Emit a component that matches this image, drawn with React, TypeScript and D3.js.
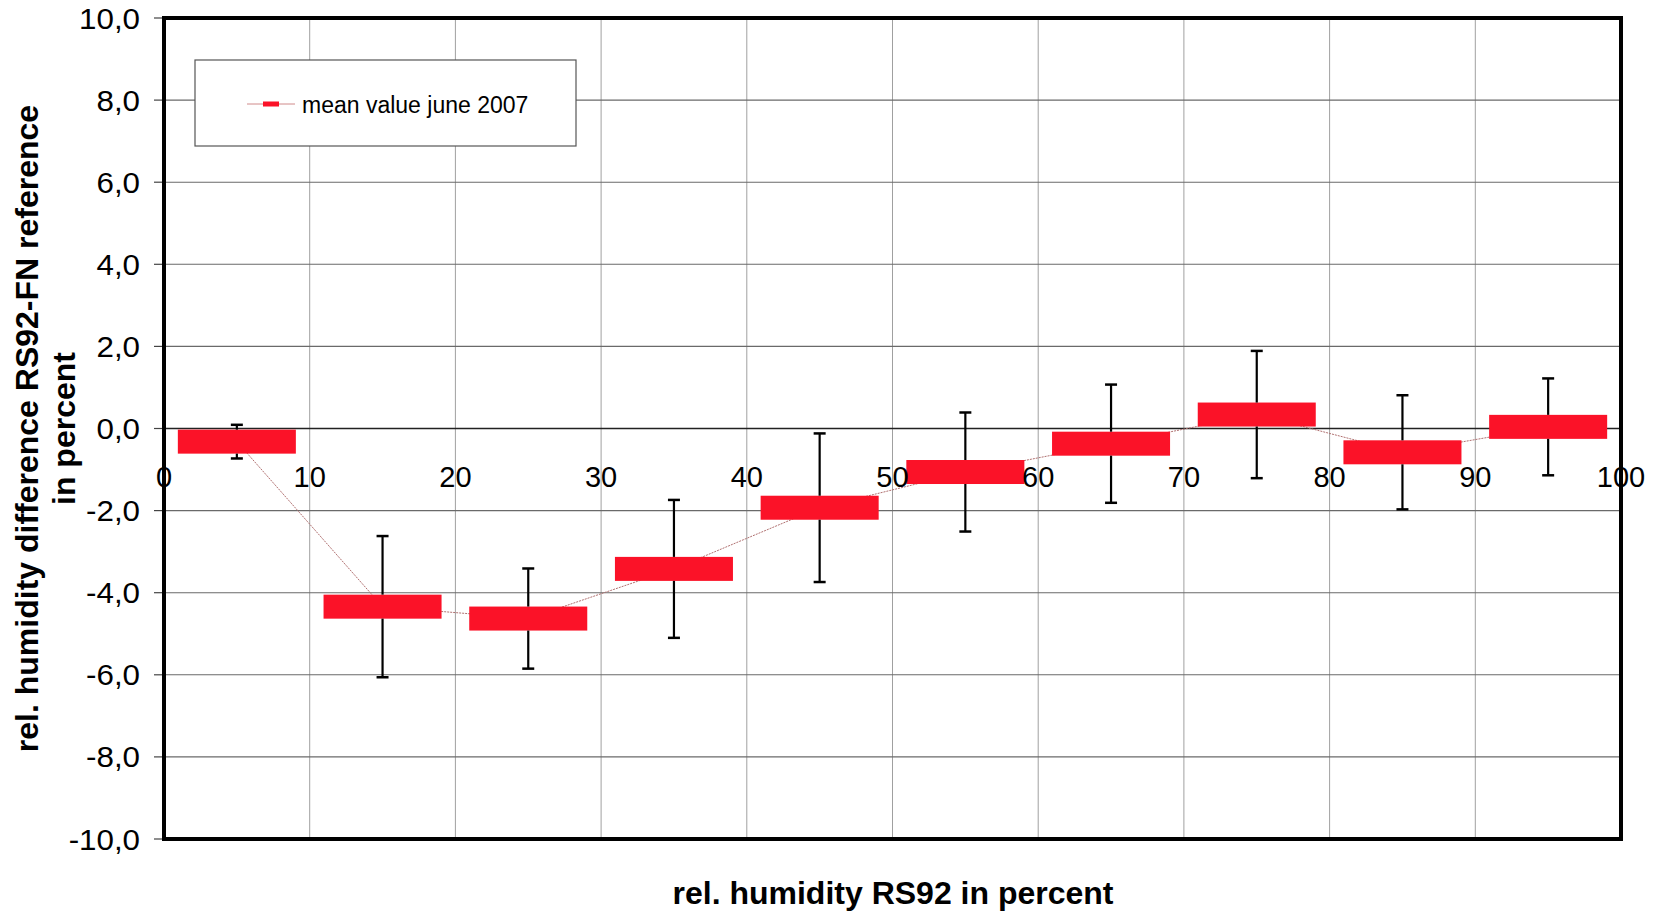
import React from "react";
import * as d3 from "d3";

// Humidity bins (lower edge of each 10 % class)
const binStarts: number[] = [0, 10, 20, 30, 40, 50, 60, 70, 80, 90];
// Mean difference RS92 - FN reference per bin (percent RH)
const meanValues: number[] = [-0.32, -4.34, -4.63, -3.42, -1.93, -1.06, -0.37, 0.34, -0.58, 0.04];
// Standard deviation per bin (error bar half-length)
const stdDevs: number[] = [0.41, 1.72, 1.22, 1.68, 1.81, 1.45, 1.44, 1.55, 1.39, 1.18];

const xTicks: number[] = [0, 10, 20, 30, 40, 50, 60, 70, 80, 90, 100];
const yTicks: number[] = [10, 8, 6, 4, 2, 0, -2, -4, -6, -8, -10];

const legendLabel = "mean value june 2007";
const xTitle = "rel. humidity RS92 in percent";
const yTitleLines = ["rel. humidity difference RS92-FN reference", "in percent"];

const W = 1661;
const H = 912;
const plot = { left: 164, right: 1621, top: 18, bottom: 839 };

const FONT = "'Liberation Sans', Arial, Helvetica, sans-serif";
const RED = "#fb1228";

const deLocale = d3.formatLocale({
  decimal: ",",
  thousands: ".",
  grouping: [3],
  currency: ["", " €"],
  minus: "-",
});
const fmtY = deLocale.format(".1f");

export default function App() {
  const x = d3.scaleLinear().domain([0, 100]).range([plot.left, plot.right]);
  const y = d3.scaleLinear().domain([-10, 10]).range([plot.bottom, plot.top]);

  const centers = binStarts.map((b) => b + 5);
  const halfWidth = 4.05; // bar half-width in humidity units
  const markerH = 24; // marker thickness in px
  const capW = 6;

  const line = d3
    .line<number>()
    .x((_, i) => x(centers[i]))
    .y((d) => y(d));

  return (
    <svg
      width={W}
      height={H}
      style={{ position: "absolute", left: 0, top: 0, background: "#fff" }}
      fontFamily={FONT}
    >
      <rect x={0} y={0} width={W} height={H} fill="#fff" />

      {/* vertical gridlines */}
      {xTicks.slice(1, -1).map((t) => (
        <line
          key={"vg" + t}
          x1={x(t)}
          x2={x(t)}
          y1={plot.top}
          y2={plot.bottom}
          stroke="#a0a0a0"
          strokeWidth={1}
        />
      ))}

      {/* horizontal gridlines */}
      {yTicks
        .filter((t) => t !== 10 && t !== -10)
        .map((t) => (
          <line
            key={"hg" + t}
            x1={plot.left}
            x2={plot.right}
            y1={y(t)}
            y2={y(t)}
            stroke={t === 0 ? "#222" : "#6a6a6a"}
            strokeWidth={t === 0 ? 1.5 : 1.1}
          />
        ))}

      {/* y tick marks */}
      {yTicks.map((t) => (
        <line
          key={"yt" + t}
          x1={plot.left - 10}
          x2={plot.left}
          y1={y(t)}
          y2={y(t)}
          stroke="#444"
          strokeWidth={1.2}
        />
      ))}

      {/* y tick labels */}
      {yTicks.map((t) => (
        <text
          key={"yl" + t}
          transform={`translate(${plot.left - 24},${y(t) + 10.5}) scale(1.08,1)`}
          textAnchor="end"
          fontSize={29}
          fill="#000"
        >
          {fmtY(t)}
        </text>
      ))}

      {/* legend */}
      <g>
        <rect x={195} y={60} width={381} height={86} fill="#fff" stroke="#555" strokeWidth={1.2} />
        <line x1={247} x2={295} y1={104} y2={104} stroke="#d08a8a" strokeWidth={1} />
        <rect x={263} y={101.5} width={16} height={5} fill={RED} />
        <text x={302} y={113} fontSize={23} fill="#000">
          {legendLabel}
        </text>
      </g>

      {/* thin connecting line through the means */}
      <path d={line(meanValues) ?? ""} fill="none" stroke="#b07070" strokeWidth={1} strokeDasharray="2 1" />

      {/* mean markers */}
      {meanValues.map((m, i) => (
        <rect
          key={"m" + i}
          x={x(centers[i] - halfWidth)}
          y={y(m) - markerH / 2}
          width={x(centers[i] + halfWidth) - x(centers[i] - halfWidth)}
          height={markerH}
          fill={RED}
        />
      ))}

      {/* error bars: mean ± standard deviation */}
      {meanValues.map((m, i) => {
        const cx = x(centers[i]);
        const top = y(m + stdDevs[i]);
        const bot = y(m - stdDevs[i]);
        const mTop = y(m) - markerH / 2;
        const mBot = y(m) + markerH / 2;
        return (
          <g key={"e" + i} stroke="#000">
            <line x1={cx} x2={cx} y1={top} y2={mTop} strokeWidth={2.2} />
            <line x1={cx} x2={cx} y1={mBot} y2={bot} strokeWidth={2.2} />
            <line x1={cx - capW} x2={cx + capW} y1={top} y2={top} strokeWidth={2.5} />
            <line x1={cx - capW} x2={cx + capW} y1={bot} y2={bot} strokeWidth={2.5} />
          </g>
        );
      })}

      {/* plot frame */}
      <rect
        x={plot.left}
        y={plot.top}
        width={plot.right - plot.left}
        height={plot.bottom - plot.top}
        fill="none"
        stroke="#000"
        strokeWidth={4}
      />

      {/* x tick labels along the zero line */}
      {xTicks.map((t) => (
        <text key={"xl" + t} x={x(t)} y={487} textAnchor="middle" fontSize={29} fill="#000">
          {t}
        </text>
      ))}

      {/* axis titles */}
      <text x={893} y={904} textAnchor="middle" fontSize={32} fontWeight="bold" fill="#000">
        {xTitle}
      </text>
      <g transform={`translate(38,${(plot.top + plot.bottom) / 2}) rotate(-90)`}>
        <text x={0} y={0} textAnchor="middle" fontSize={32} fontWeight="bold" fill="#000">
          {yTitleLines[0]}
        </text>
        <text x={0} y={37} textAnchor="middle" fontSize={32} fontWeight="bold" fill="#000">
          {yTitleLines[1]}
        </text>
      </g>
    </svg>
  );
}
